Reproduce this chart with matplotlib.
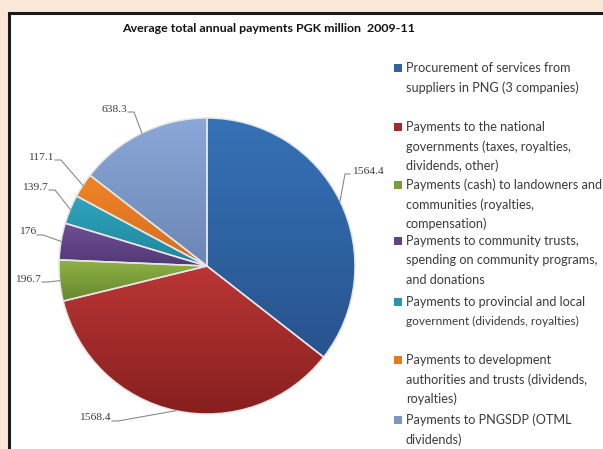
import matplotlib
matplotlib.use("Agg")
import matplotlib.pyplot as plt
import numpy as np
from matplotlib.colors import LinearSegmentedColormap, to_rgb
from matplotlib.patches import Rectangle

W, H = 603, 449

categories = [
    "Procurement of services from\nsuppliers in PNG (3 companies)",
    "Payments to the national\ngovernments (taxes, royalties,\ndividends, other)",
    "Payments (cash) to landowners and\ncommunities (royalties,\ncompensation)",
    "Payments to community trusts,\nspending on community programs,\nand donations",
    "Payments to provincial and local\ngovernment (dividends, royalties)",
    "Payments to development\nauthorities and trusts (dividends,\nroyalties)",
    "Payments to PNGSDP (OTML\ndividends)",
]
values = [1564.4, 1568.4, 196.7, 176, 139.7, 117.1, 638.3]
value_labels = ["1564.4", "1568.4", "196.7", "176", "139.7", "117.1", "638.3"]

# (light top, dark bottom) per slice
_SHADES = [("#3672b6", "#28538e"), ("#bb3635", "#871f1f"), ("#8fb345", "#67872e"),
           ("#714f96", "#523875"), ("#2fa3bd", "#21869c"), ("#f08428", "#d36d1e"),
           ("#8aa8d8", "#6b86b3")]
_TEXT = "#3a3a3a"
_LINE = "#8a8a8a"

# label text anchor in pixels (x, y from top), ha
_LABEL_POS = [(352, 171, "left"), (111, 418, "right"), (41, 279, "right"),
              (36, 232, "right"), (48, 187, "right"), (54, 157, "right"),
              (127, 109, "right")]

cx, cy, r = 207, H - 266, 148

fig = plt.figure(figsize=(W / 100, H / 100), dpi=100)
fig.patch.set_facecolor("#fbe7d8")
fig.patches.append(Rectangle((9 / W, -0.1), 1.2, (H - 13) / H + 0.1, transform=fig.transFigure,
                             facecolor="white", edgecolor="#1a1a1a", lw=2.2, zorder=-1))

ax = fig.add_axes([0, 0, 1, 1])
ax.set_axis_off()
ax.patch.set_alpha(0)

wedges, _ = ax.pie(values, startangle=90, counterclock=False, center=(cx, cy), radius=r,
                   colors=[s[0] for s in _SHADES],
                   wedgeprops=dict(edgecolor="#e6e6e6", linewidth=1.1), frame=True)
ax.set_xlim(0, W)
ax.set_ylim(0, H)
fig.canvas.draw()

grad = np.linspace(0, 1, 256).reshape(-1, 1)
for w, (light, dark) in zip(wedges, _SHADES):
    verts = ax.transData.inverted().transform(w.get_verts())
    x0, y0 = verts.min(axis=0)
    x1, y1 = verts.max(axis=0)
    cmap = LinearSegmentedColormap.from_list("g", [dark, light])
    im = ax.imshow(grad, extent=(x0, x1, y0, y1), origin="lower", cmap=cmap,
                   aspect="auto", zorder=1.5, interpolation="bilinear")
    im.set_clip_path(w)
    w.set_facecolor("none")
    w.set_zorder(2)

for w, txt, (tx, ty, ha) in zip(wedges, value_labels, _LABEL_POS):
    ang = np.deg2rad((w.theta1 + w.theta2) / 2)
    axx, axy = cx + r * np.cos(ang), cy + r * np.sin(ang)
    ty = H - ty
    sx = tx - 2 if ha == "left" else tx + 1
    ex = sx + (-5 if ha == "left" else 6)
    ax.plot([sx, ex, axx], [ty - 3, ty - 3, axy], color=_LINE, lw=0.8, zorder=3)
    ax.text(tx, ty, txt, ha=ha, va="center", fontsize=8.2, color=_TEXT,
            family="Liberation Serif", zorder=3)

ax.set_xlim(0, W)
ax.set_ylim(0, H)

fig.text(268 / W, (H - 28) / H, "Average total annual payments PGK million  2009-11",
         ha="center", va="center", fontsize=8.9, fontweight="bold", color="#111111",
         family="Lato")

# legend, fixed slots like the Excel original
entry_top = [68, 127, 185, 241, 302, 360, 420]
for i, (lab, (light, dark)) in enumerate(zip(categories, _SHADES)):
    for j, line in enumerate(lab.split("\n")):
        fs = 8.6 if line.startswith("government (") else 9.1
        fig.text(406 / W, (H - entry_top[i] - j * 19.3) / H, line, ha="left", va="center",
                 fontsize=fs, color=_TEXT, family="Lato")
    mid = [(a + b) / 2 for a, b in zip(to_rgb(light), to_rgb(dark))]
    fig.patches.append(Rectangle((394 / W, (H - entry_top[i] - 4) / H), 8 / W, 8 / H,
                                 transform=fig.transFigure, facecolor=mid, edgecolor="none"))

fig.savefig("out.png", dpi=100, facecolor=fig.get_facecolor())
